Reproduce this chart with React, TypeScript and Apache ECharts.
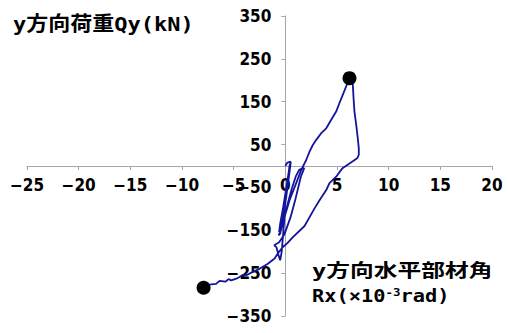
import React, { useEffect, useRef } from "react";
import * as echarts from "echarts";

// Rotation Rx (×10^-3 rad) and load Qy (kN) along the loading history
const rx = [
  0, 0.2, 0.5, 0.35, 0.1, -0.2, -0.5, -0.6, -0.55, -0.3, 0.0, 0.25, 0.4, 0.53,
  0.4, 0.1, -0.2, -0.5, -0.65, -0.4, 0.1, 0.6, 1.0, 1.34, 1.6, 1.83, 1.5, 1.0,
  0.5, -0.1, -0.6, -1.07, -0.85, -0.7, -0.5, -0.35, -0.08, 0.41, 1.05, 1.54,
  2.02, 2.34, 2.66, 2.99, 3.47, 3.96, 4.44, 4.92, 5.24, 5.56, 5.89, 6.21, 6.53,
  6.6, 6.69, 6.86, 7.01, 7.11, 7.11, 6.95, 6.6, 6.21, 5.53, 4.92, 4.27, 3.96,
  3.31, 2.8, 1.86, 0.73, 0.2, -0.24, -0.73, -1.04, -1.69, -2.5, -3.14, -3.78,
  -4.1, -4.43, -4.75, -5.23, -5.5, -5.8, -6.36, -6.7, -7.2, -7.91,
];
const qy = [
  0, 8, 10, -10, -50, -95, -135, -154, -150, -120, -75, -30, 0, 10, -15, -70,
  -120, -158, -162, -148, -100, -55, -25, -9, -6, -5, -25, -75, -120, -160,
  -178, -185, -190, -205, -220, -200, -119, -80, -40, -9, 14, 33.5, 49, 61,
  76.6, 88, 108, 127, 147, 166, 186, 205, 190, 159, 127, 96, 65, 41, 26, 18, 12,
  6, -5, -25, -40, -56, -80, -100, -140, -166, -180, -189, -204, -216, -228,
  -240, -247, -255, -254, -259, -263, -267, -264, -270, -268, -275, -276, -284,
];

// Marked points: peak of the large cycle and the final point
const markRx = [6.21, -7.91];
const markQy = [205, -284];

const xMin = -25;
const xMax = 20;
const xStep = 5;
const yMin = -350;
const yMax = 350;
const yTicks = [-350, -250, -150, -50, 50, 150, 250, 350];

// Plot area in pixels
const W = 508;
const H = 333;
const G = { left: 27, right: 16, top: 16, bottom: 17 };
const plotW = W - G.left - G.right;
const plotH = H - G.top - G.bottom;
// Axes cross at the origin: shift them in from the grid edges
const yAxisShift = -((0 - xMin) / (xMax - xMin)) * plotW;
const xAxisShift = -((0 - yMin) / (yMax - yMin)) * plotH;

const axisGrey = "#a6a6a6";
const tickFont = "'Liberation Sans Narrow', 'DejaVu Sans Condensed', 'Arial Narrow', sans-serif";
const textFont = "'DejaVu Sans Mono', 'Noto Sans CJK JP', monospace";

const fmt = (v: number) => String(v).replace("-", "\u2212");

export default function App() {
  const ref = useRef<HTMLDivElement>(null);

  useEffect(() => {
    if (!ref.current) return;
    const chart = echarts.init(ref.current, undefined, { renderer: "svg" });

    const labelStyle = {
      color: "#000",
      fontFamily: tickFont,
      fontSize: 17,
      fontWeight: "bold" as const,
      formatter: fmt,
    };

    const textStyle = (size: number) => ({
      fontFamily: textFont,
      fontSize: size,
      fontWeight: "bold" as const,
      fill: "#000",
      align: "left" as const,
      verticalAlign: "middle" as const,
    });

    chart.setOption({
      animation: false,
      backgroundColor: "#fff",
      grid: { ...G, outerBoundsMode: "none", containLabel: false },
      xAxis: {
        type: "value",
        min: xMin,
        max: xMax,
        interval: xStep,
        position: "bottom",
        offset: xAxisShift,
        axisLine: { show: true, onZero: false, lineStyle: { color: axisGrey, width: 1 } },
        axisTick: { show: true, length: 4, lineStyle: { color: axisGrey } },
        splitLine: { show: false },
        axisLabel: { ...labelStyle, margin: 10 },
      },
      yAxis: {
        type: "value",
        min: yMin,
        max: yMax,
        position: "left",
        offset: yAxisShift,
        axisLine: { show: true, onZero: false, lineStyle: { color: axisGrey, width: 1 } },
        axisTick: { show: true, length: 4, customValues: yTicks, lineStyle: { color: axisGrey } },
        splitLine: { show: false },
        axisLabel: { ...labelStyle, margin: 14, customValues: yTicks },
      },
      series: [
        {
          type: "line",
          data: rx.map((x, i) => [x, qy[i]]),
          symbol: "none",
          lineStyle: { color: "#14149c", width: 1.8 },
          z: 2,
        },
        {
          type: "scatter",
          data: markRx.map((x, i) => [x, markQy[i]]),
          symbolSize: 14,
          itemStyle: { color: "#000", opacity: 1 },
          z: 3,
        },
      ],
      graphic: [
        {
          type: "text",
          x: 13,
          y: 24,
          scaleX: 1.1,
          style: { text: "y方向荷重Qy(kN)", ...textStyle(20) },
        },
        {
          type: "text",
          x: 312,
          y: 271,
          scaleX: 1.32,
          style: { text: "y方向水平部材角", ...textStyle(18) },
        },
        {
          type: "text",
          x: 312,
          y: 296,
          scaleX: 1.13,
          style: {
            ...textStyle(18),
            text: "{n|Rx(×10}{s|-3}{n|rad)}",
            rich: {
              n: { fontFamily: textFont, fontSize: 18, fontWeight: "bold", fill: "#000" },
              s: {
                fontFamily: textFont,
                fontSize: 11,
                fontWeight: "bold",
                fill: "#000",
                verticalAlign: "top",
              },
            },
          },
        },
      ],
    });

    return () => chart.dispose();
  }, []);

  return (
    <div
      ref={ref}
      style={{ position: "fixed", left: 0, top: 0, width: W, height: H, background: "#fff" }}
    />
  );
}
